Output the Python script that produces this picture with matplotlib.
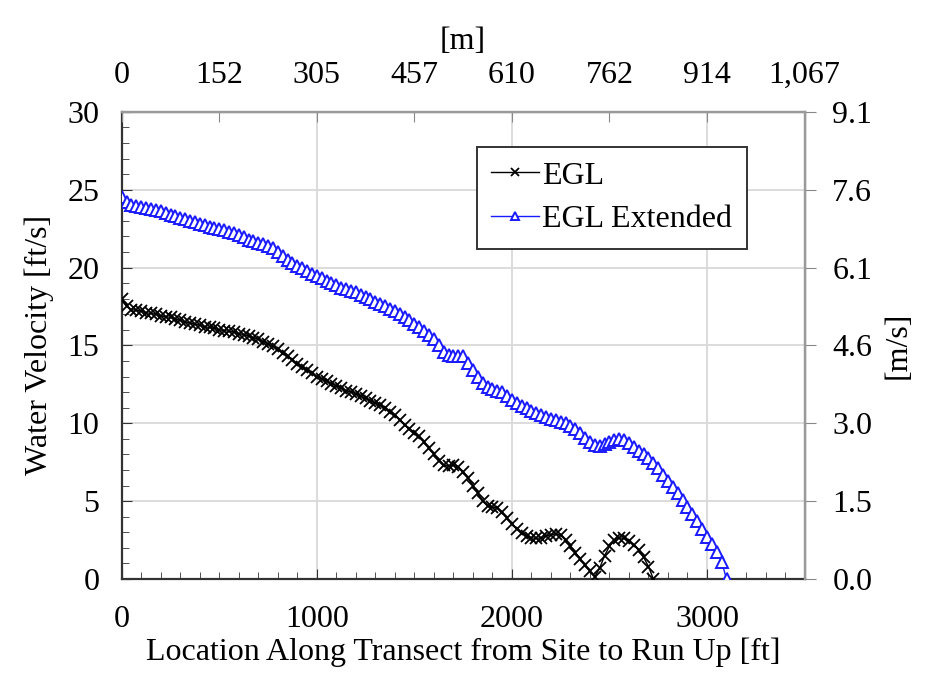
import numpy as np
import matplotlib.pyplot as plt
from matplotlib.ticker import MultipleLocator

plt.rcParams['font.family'] = ['Liberation Serif', 'DejaVu Serif']

# stations every 25 ft along the transect
egl_x = np.arange(0, 2726, 25)
egl_v = [18.0, 17.5, 17.3, 17.25, 17.2, 17.1, 17.05, 17.0, 16.9, 16.85,
         16.8, 16.7, 16.6, 16.5, 16.45, 16.35, 16.3, 16.2, 16.15, 16.1,
         16.0, 15.95, 15.9, 15.85, 15.75, 15.7, 15.6, 15.5, 15.4, 15.25,
         15.1, 14.95, 14.75, 14.5, 14.3, 14.05, 13.8, 13.6, 13.4, 13.2,
         13.0, 12.85, 12.7, 12.55, 12.4, 12.25, 12.1, 12.0, 11.9, 11.75,
         11.6, 11.45, 11.3, 11.15, 11.0, 10.75, 10.5, 10.2, 9.9, 9.65,
         9.4, 9.15, 8.8, 8.4, 8.0, 7.6, 7.3, 7.25, 7.3, 7.2,
         6.9, 6.5, 6.0, 5.5, 5.0, 4.7, 4.6, 4.55, 4.3, 3.9,
         3.5, 3.2, 2.95, 2.75, 2.65, 2.6, 2.65, 2.75, 2.85, 2.9,
         2.8, 2.5, 2.1, 1.7, 1.3, 0.9, 0.5, 0.15, 0.7, 1.5,
         2.1, 2.5, 2.65, 2.6, 2.45, 2.2, 1.85, 1.4, 0.8, 0.0]

ext_x = np.arange(0, 3101, 25)
ext_v = [24.5, 24.2, 24.0, 23.95, 23.9, 23.8, 23.75, 23.7, 23.6, 23.5,
         23.4, 23.3, 23.2, 23.1, 23.0, 22.9, 22.8, 22.7, 22.6, 22.55,
         22.5, 22.4, 22.3, 22.2, 22.1, 21.95, 21.8, 21.7, 21.6, 21.5,
         21.4, 21.25, 21.0, 20.75, 20.5, 20.3, 20.1, 19.95, 19.8, 19.6,
         19.45, 19.3, 19.15, 19.0, 18.85, 18.7, 18.6, 18.5, 18.4, 18.25,
         18.1, 17.95, 17.8, 17.65, 17.5, 17.35, 17.2, 17.0, 16.8, 16.6,
         16.4, 16.15, 15.9, 15.65, 15.4, 15.0, 14.6, 14.4, 14.3, 14.35,
         14.3, 13.9, 13.4, 13.0, 12.6, 12.35, 12.2, 12.1, 12.0, 11.75,
         11.5, 11.3, 11.1, 10.95, 10.8, 10.65, 10.5, 10.4, 10.3, 10.2,
         10.1, 10.0, 9.85, 9.6, 9.35, 9.05, 8.8, 8.6, 8.55, 8.65,
         8.8, 8.95, 9.0, 8.9, 8.75, 8.5, 8.25, 8.0, 7.75, 7.45,
         7.1, 6.7, 6.3, 5.9, 5.5, 5.05, 4.6, 4.15, 3.7, 3.2,
         2.7, 2.25, 1.75, 1.1, 0.0]

top_ticks_ft = [0, 500, 1000, 1500, 2000, 2500, 3000, 3500]
top_labels_m = ['0', '152', '305', '457', '610', '762', '914', '1,067']
right_ticks_fts = [0, 5, 10, 15, 20, 25, 30]
right_labels_ms = ['0.0', '1.5', '3.0', '4.6', '6.1', '7.6', '9.1']

fs = 23
fig, ax = plt.subplots(figsize=(9.51, 6.86), dpi=100)
fig.subplots_adjust(left=0.128, right=0.846, top=0.837, bottom=0.156)

ax.plot(egl_x, egl_v, color='black', marker='x', markersize=8, markeredgewidth=1.3,
        linewidth=1, label='EGL', zorder=3)
ax.plot(ext_x, ext_v, color='#1a1aff', marker='^', markersize=8, markerfacecolor='white',
        markeredgewidth=1.4, linewidth=1, label='EGL Extended', zorder=3)

ax.set_xlim(0, 3500)
ax.set_ylim(0, 30)
ax.xaxis.set_major_locator(MultipleLocator(1000))
ax.xaxis.set_minor_locator(MultipleLocator(100))
ax.yaxis.set_major_locator(MultipleLocator(5))
ax.yaxis.set_minor_locator(MultipleLocator(1))
ax.tick_params(which='both', direction='in', labelsize=fs, color='#333333')
ax.tick_params(which='major', length=7)
ax.tick_params(which='minor', length=5)
ax.tick_params(axis='x', pad=19)
ax.tick_params(axis='y', pad=16)
ax.grid(True, which='major', color='#d9d9d9', linewidth=1.3)
ax.set_axisbelow(True)
ax.set_xlabel('Location Along Transect from Site to Run Up [ft]', fontsize=fs, labelpad=2)
ax.set_ylabel('Water Velocity [ft/s]', fontsize=fs, labelpad=10)
for s in ['left', 'bottom']:
    ax.spines[s].set_color('#333333')
    ax.spines[s].set_linewidth(1.6)

# secondary axes in SI units
axt = ax.twiny()
axt.set_xlim(ax.get_xlim())
axt.set_xticks(top_ticks_ft)
axt.set_xticklabels(top_labels_m)
axt.tick_params(direction='in', length=7, labelsize=fs, color='#888888', pad=16)
axt.set_xlabel('[m]', fontsize=fs, labelpad=8)

axr = ax.twinx()
axr.set_ylim(ax.get_ylim())
axr.set_yticks(right_ticks_fts)
axr.set_yticklabels(right_labels_ms)
axr.tick_params(direction='out', length=8, labelsize=fs, color='#888888', pad=12)
axr.set_ylabel('[m/s]', fontsize=fs, labelpad=8)

for a in [axt, axr]:
    for s in ['top', 'right']:
        a.spines[s].set_color('#9a9a9a')
        a.spines[s].set_linewidth(1.6)
    for s in ['left', 'bottom']:
        a.spines[s].set_visible(False)

leg = ax.legend(loc='upper left', bbox_to_anchor=(0.52, 0.925), fontsize=fs,
                frameon=True, fancybox=False, edgecolor='#333333', markerscale=0.7,
                handlelength=1.5, handletextpad=0.1, borderpad=0.45, labelspacing=0.45,
                borderaxespad=0)
leg.get_frame().set_linewidth(1.4)
leg.get_frame().set_alpha(1)

plt.savefig('out.png', dpi=100)
